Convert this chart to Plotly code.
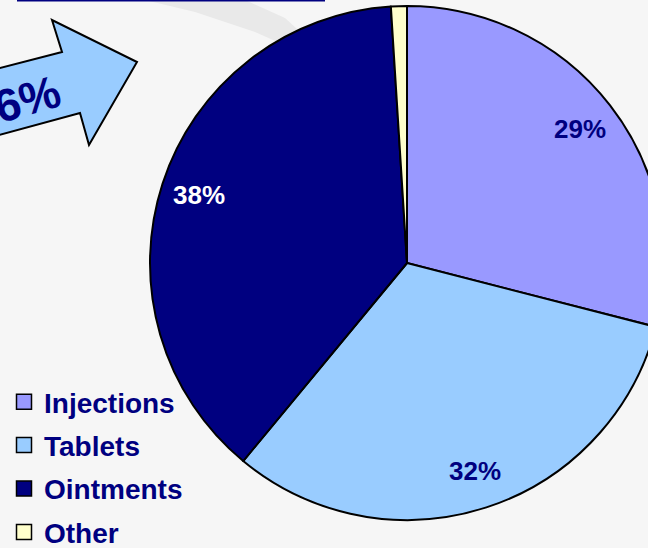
import math
import plotly.graph_objects as go

# ---- data ----
categories = ["Injections", "Tablets", "Ointments", "Other"]
shares = [29, 32, 38, 1]
slice_colors = ["#9999ff", "#99ccff", "#000080", "#ffffcc"]
label_colors = ["#000080", "#000080", "#ffffff", "#000080"]
arrow_text = "6%"

W, H = 680, 548
FONT = "Liberation Sans, Arial, sans-serif"
total = sum(shares)

# pie geometry (pixels)
CX, CY, R = 407, 263, 257

def px(x, y):
    return x / W, 1 - y / H

fig = go.Figure()
fig.add_trace(go.Pie(
    labels=categories,
    values=shares,
    sort=False,
    direction="clockwise",
    rotation=0,
    marker=dict(colors=slice_colors, line=dict(color="#000000", width=2)),
    textinfo="none",
    domain=dict(x=[(CX - R) / W, (CX + R) / W], y=[(H - CY - R) / H, (H - CY + R) / H]),
    hoverinfo="label+percent",
    showlegend=False,
))

# legend entries
for name, col in zip(categories, slice_colors):
    fig.add_trace(go.Scatter(
        x=[None], y=[None], mode="markers", name=name, legendgroup=name,
        marker=dict(symbol="square", size=15, color=col,
                    line=dict(color="#000000", width=1.5)),
    ))

# percentage labels placed along each slice's mid-angle
annotations = []
cum = 0
for v, c in zip(shares, label_colors):
    frac = v / total
    mid = (cum + frac / 2) * 2 * math.pi
    cum += frac
    if frac < 0.05:
        continue
    r = 0.85 * R
    lx, ly = CX + r * math.sin(mid), CY - r * math.cos(mid)
    annotations.append(dict(
        text=f"{round(frac * 100)}%", xref="paper", yref="paper",
        x=px(lx, ly)[0], y=px(lx, ly)[1], xanchor="center", yanchor="middle",
        showarrow=False, font=dict(family=FONT, size=26, color=c, weight="bold")))

annotations.append(dict(
    text=arrow_text, xref="paper", yref="paper",
    x=px(27, 99)[0], y=px(27, 99)[1], xanchor="center", yanchor="middle",
    showarrow=False, textangle=-16,
    font=dict(family=FONT, size=46, color="#000080", weight="bold")))

# arrow decoration
pts = [(-12, 71), (62, 52), (52, 20), (137, 62), (89, 145), (80, 113), (-12, 138)]
path = "M " + " L ".join(f"{px(x, y)[0]:.5f},{px(x, y)[1]:.5f}" for x, y in pts) + " Z"

# faint swoosh in background
sw = [(145, 0), (245, 0), (285, 18), (318, 48), (300, 52), (255, 32), (195, 12)]
swpath = "M " + " L ".join(f"{px(x, y)[0]:.5f},{px(x, y)[1]:.5f}" for x, y in sw) + " Z"

fig.update_layout(
    width=W, height=H, autosize=False,
    margin=dict(l=0, r=0, t=0, b=0, autoexpand=False),
    paper_bgcolor="#f6f6f6",
    plot_bgcolor="rgba(0,0,0,0)",
    xaxis=dict(visible=False),
    yaxis=dict(visible=False),
    showlegend=True,
    legend=dict(
        x=4 / W, y=1 - 377 / H, xanchor="left", yanchor="top",
        font=dict(family=FONT, size=28, color="#000080", weight="bold"),
        bgcolor="rgba(0,0,0,0)",
        tracegroupgap=4,
        itemsizing="trace",
    ),
    shapes=[
        dict(type="path", path=swpath, xref="paper", yref="paper",
             fillcolor="#e9e9e9", line=dict(width=0), layer="below"),
        dict(type="path", path=path, xref="paper", yref="paper",
             fillcolor="#99ccff", line=dict(color="#000000", width=2), layer="below"),
        dict(type="line", xref="paper", yref="paper",
             x0=17 / W, x1=325 / W, y0=1 - 0.5 / H, y1=1 - 0.5 / H,
             line=dict(color="#000080", width=2)),
    ],
    annotations=annotations,
)

fig.write_html("out.html", post_script=
    "document.documentElement.style.overflow='hidden';document.body.style.overflow='hidden';")
